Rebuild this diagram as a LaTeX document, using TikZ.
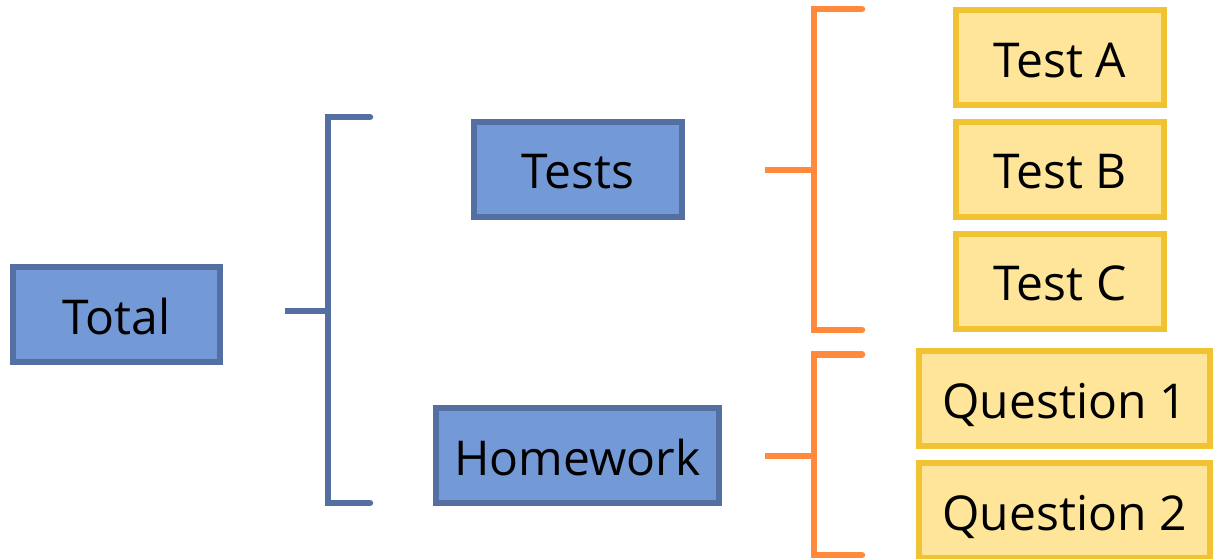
\documentclass[tikz,border=0pt]{standalone}
\usepackage{fontspec}
\setmainfont{Open Sans}
\definecolor{bluefill}{HTML}{7499D7}
\definecolor{blueline}{HTML}{5470A3}
\definecolor{orng}{HTML}{FF8A3C}
\definecolor{yfill}{HTML}{FFE599}
\definecolor{yline}{HTML}{F1C232}
\newcommand{\boxfont}{\fontsize{48}{56}\selectfont}
\tikzset{
  basebox/.style={line width=6pt, inner sep=0pt, minimum height=95pt, font=\boxfont, text height=39pt, text depth=0pt, align=center},
  bluebox/.style={basebox, draw=blueline, fill=bluefill},
  yelbox/.style={basebox, draw=yline, fill=yfill},
  bluebr/.style={draw=blueline, line width=6.5pt, line cap=round, line join=miter},
  orbr/.style={draw=orng, line width=6.5pt, line cap=round, line join=miter},
  bluestub/.style={draw=blueline, line width=6.5pt, line cap=butt},
  orstub/.style={draw=orng, line width=6.5pt, line cap=butt}
}
\begin{document}
\begin{tikzpicture}[x=1pt,y=-1pt]
\useasboundingbox (0,0) rectangle (1213,559);
% nodes
\node[bluebox, minimum width=207pt] (total) at (116.5,314.5) {Total};
\node[bluebox, minimum width=208pt] (tests) at (578,169.5) {Tests};
\node[bluebox, minimum width=283pt] (hw) at (577.5,455.5) {Homework};
\node[yelbox, minimum width=208pt] (ta) at (1060,58) {Test A};
\node[yelbox, minimum width=208pt] (tb) at (1060,169.5) {Test B};
\node[yelbox, minimum width=208pt] (tc) at (1060,281) {Test C};
\node[yelbox, minimum width=291pt] (q1) at (1064.5,398.5) {Question 1};
\node[yelbox, minimum width=291pt] (q2) at (1064.5,510.5) {Question 2};
% blue bracket
\coordinate (b0) at (285,311);
\coordinate (b1) at (328,311);
\coordinate (bt) at (328,117);
\coordinate (bte) at (370,117);
\coordinate (bb) at (328,503);
\coordinate (bbe) at (370,503);
\draw[bluebr] (bte) -- (bt) -- (bb) -- (bbe);
\draw[bluestub] (b0) -- (b1);
% orange bracket 1
\coordinate (o0) at (765,170);
\coordinate (o1) at (814,170);
\coordinate (ot) at (814,9);
\coordinate (ote) at (862,9);
\coordinate (ob) at (814,330);
\coordinate (obe) at (862,330);
\draw[orbr] (ote) -- (ot) -- (ob) -- (obe);
\draw[orstub] (o0) -- (o1);
% orange bracket 2
\coordinate (p0) at (765,456);
\coordinate (p1) at (814,456);
\coordinate (pt) at (814,354.5);
\coordinate (pte) at (862,354.5);
\coordinate (pb) at (814,555);
\coordinate (pbe) at (862,555);
\draw[orbr] (pte) -- (pt) -- (pb) -- (pbe);
\draw[orstub] (p0) -- (p1);
\end{tikzpicture}
\end{document}
